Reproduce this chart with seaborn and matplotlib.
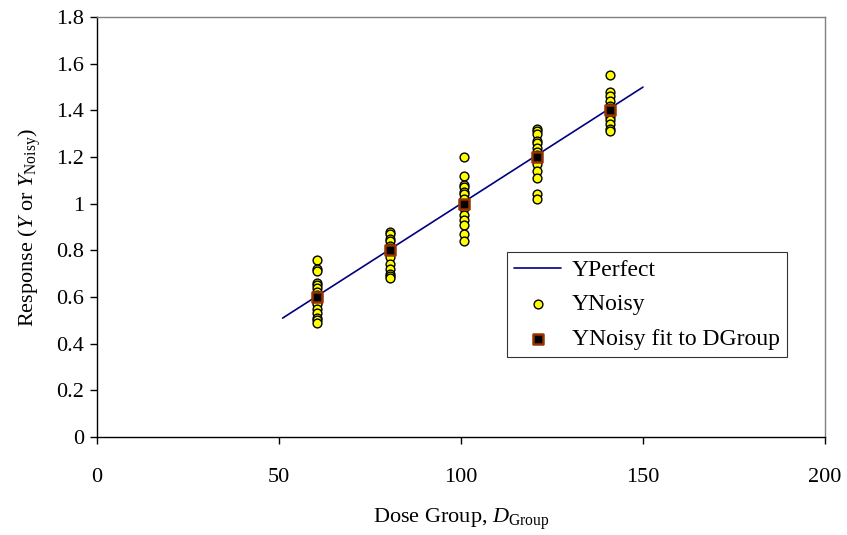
import matplotlib
matplotlib.use("Agg")
import matplotlib.pyplot as plt
import seaborn as sns
import pandas as pd

# Data
perfect_dose = [51, 150]
perfect_y = [0.51, 1.50]

noisy_60 = [0.76, 0.72, 0.71, 0.66, 0.65, 0.64, 0.62, 0.61, 0.59, 0.58, 0.57, 0.55, 0.53, 0.51, 0.50, 0.49]
noisy_80 = [0.88, 0.87, 0.85, 0.84, 0.82, 0.81, 0.79, 0.77, 0.74, 0.72, 0.70, 0.69, 0.68]
noisy_100 = [1.20, 1.12, 1.08, 1.07, 1.05, 1.04, 1.02, 1.00, 0.98, 0.95, 0.93, 0.91, 0.87, 0.84]
noisy_120 = [1.32, 1.31, 1.30, 1.27, 1.26, 1.24, 1.22, 1.21, 1.19, 1.17, 1.14, 1.11, 1.04, 1.02]
noisy_140 = [1.55, 1.48, 1.46, 1.44, 1.42, 1.41, 1.39, 1.37, 1.36, 1.34, 1.32, 1.31]
group_doses = [60.5, 80.6, 100.8, 120.8, 141.0]
fit_y = [0.60, 0.80, 1.00, 1.20, 1.40]

x_ticks = [0, 50, 100, 150, 200]
y_ticks = [0, 0.2, 0.4, 0.6, 0.8, 1.0, 1.2, 1.4, 1.6, 1.8]
y_tick_labels = ["0", "0.2", "0.4", "0.6", "0.8", "1", "1.2", "1.4", "1.6", "1.8"]

sns.set_theme(style="white")
plt.rcParams['font.family'] = ['Liberation Serif', 'DejaVu Serif']
plt.rcParams['mathtext.fontset'] = 'custom'
plt.rcParams['mathtext.rm'] = 'Liberation Serif'
plt.rcParams['mathtext.it'] = 'Liberation Serif:italic'
plt.rcParams['text.color'] = 'black'
plt.rcParams['axes.labelcolor'] = 'black'

noisy_groups = [noisy_60, noisy_80, noisy_100, noisy_120, noisy_140]
noisy_df = pd.DataFrame({
    "dose": [d for d, g in zip(group_doses, noisy_groups) for _ in g],
    "y": [v for g in noisy_groups for v in g],
})
perfect_df = pd.DataFrame({"dose": perfect_dose, "y": perfect_y})
fit_df = pd.DataFrame({"dose": group_doses, "y": fit_y})

fig = plt.figure(figsize=(8.47, 5.35), dpi=100)
ax = fig.add_axes([0.1145, 0.183, 0.8595, 0.785])

sns.lineplot(data=perfect_df, x="dose", y="y", ax=ax, color="#000080", lw=1.2,
             label="YPerfect")
sns.scatterplot(data=noisy_df, x="dose", y="y", ax=ax, color="#FFFF00", edgecolor="black",
                linewidth=1.0, s=40, marker="o", label="YNoisy", zorder=3)
sns.scatterplot(data=fit_df, x="dose", y="y", ax=ax, color="black", edgecolor="#993300",
                linewidth=1.8, s=55, marker="s", label="YNoisy fit to DGroup", zorder=4)

ax.set_xlim(0, 200)
ax.set_ylim(0, 1.8)
ax.set_xticks(x_ticks)
ax.set_xticklabels([str(t) for t in x_ticks])
ax.set_yticks(y_ticks)
ax.set_yticklabels(y_tick_labels)
ax.tick_params(axis="both", labelsize=16, colors="black", direction="out", length=5, width=1,
               bottom=True, left=True)
ax.tick_params(axis="x", pad=17)
ax.tick_params(axis="y", pad=4)

for side in ["left", "bottom"]:
    ax.spines[side].set_color("black")
    ax.spines[side].set_linewidth(1.0)
for side in ["top", "right"]:
    ax.spines[side].set_color("#808080")
    ax.spines[side].set_linewidth(1.0)

ax.set_xlabel(r"Dose Group, $\mathit{D}_{\mathrm{Group}}$", fontsize=16, labelpad=14, color="black")
ax.set_ylabel(r"Response ($\mathit{Y}$ or $\mathit{Y}_{\mathrm{Noisy}}$)", fontsize=16, labelpad=10,
              color="black")

leg = ax.legend(loc="upper left", bbox_to_anchor=(0.563, 0.44), fontsize=17, frameon=True,
                fancybox=False, edgecolor="black", borderpad=0.3, labelspacing=0.55,
                handlelength=2.0, handletextpad=0.45, borderaxespad=0, labelcolor="black")
leg.get_frame().set_linewidth(0.8)

fig.savefig("out.png", dpi=100)
